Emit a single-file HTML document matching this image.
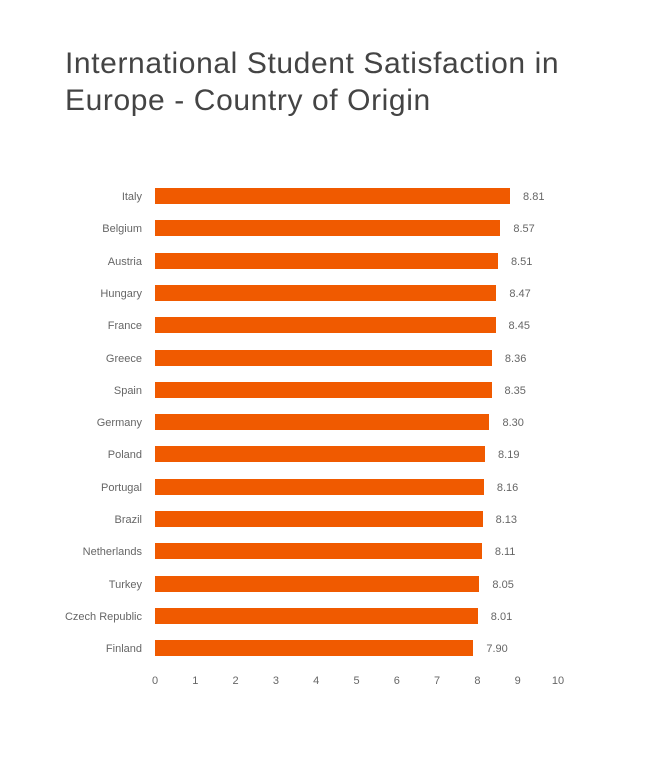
<!DOCTYPE html>
<html><head><meta charset="utf-8"><style>
body{margin:0;width:648px;height:779px;background:#fff;font-family:"Liberation Sans",sans-serif;position:relative;overflow:hidden}
.t{position:absolute;left:65px;top:45px;font-size:30px;line-height:37px;color:#444;font-weight:300;letter-spacing:0.6px}
.l{position:absolute;right:506px;font-size:11px;color:#666;line-height:14px;white-space:nowrap}
.b{position:absolute;left:155px;height:16px;background:#f05a00}
.v{position:absolute;font-size:11px;color:#666;line-height:14px}
.x{position:absolute;top:675px;font-size:11px;color:#666;width:20px;text-align:center;margin-left:-10px}
</style></head><body>
<div class="t">International Student Satisfaction in<br>Europe - Country of Origin</div>
<div id="c"></div>
<script>
var d=[["Italy",8.81],["Belgium",8.57],["Austria",8.51],["Hungary",8.47],["France",8.45],["Greece",8.36],["Spain",8.35],["Germany",8.30],["Poland",8.19],["Portugal",8.16],["Brazil",8.13],["Netherlands",8.11],["Turkey",8.05],["Czech Republic",8.01],["Finland",7.90]];
var h="",u=40.3;
d.forEach(function(e,i){var c=196+i*32.3;var w=e[1]*u;
h+='<div class="l" style="top:'+(c-6)+'px">'+e[0]+'</div>';
h+='<div class="b" style="top:'+(c-8)+'px;width:'+w+'px"></div>';
h+='<div class="v" style="top:'+(c-6)+'px;left:'+(155+w+13)+'px">'+e[1].toFixed(2)+'</div>';});
for(var k=0;k<=10;k++)h+='<div class="x" style="left:'+(155+k*u)+'px">'+k+'</div>';
document.getElementById("c").innerHTML=h;
</script>
</body></html>
